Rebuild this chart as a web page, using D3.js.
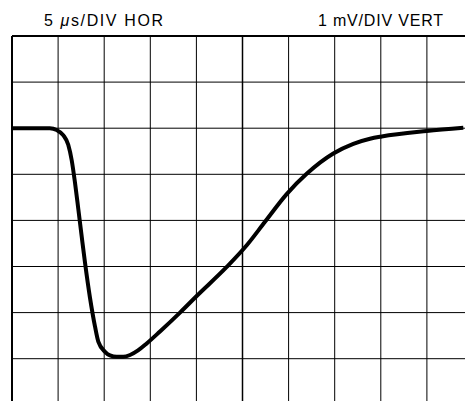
<!DOCTYPE html>
<html>
<head>
<meta charset="utf-8">
<script src="https://cdn.jsdelivr.net/npm/d3@7"></script>
<style>
  html, body { margin: 0; padding: 0; background: #fff; }
  svg { display: block; }
</style>
</head>
<body>
<div id="chart"></div>
<script>
// ---- data ----
const timeUs = [0, 2, 4.1, 4.85, 5.55, 6.1, 6.48, 6.83, 7.19, 7.56, 7.92, 8.46, 9.0, 9.36, 10.09, 10.63, 11.36, 12.07, 12.8, 13.67, 14.61, 16.05, 18.22, 20.03, 23.29, 25.46, 27.44, 29.79, 31.96, 34.85, 37.02, 38.83, 40.1, 44.98, 48.95];
const voltMv = [0, 0, 0, -0.04, -0.15, -0.36, -0.70, -1.18, -1.75, -2.35, -2.92, -3.68, -4.30, -4.63, -4.85, -4.93, -4.96, -4.96, -4.92, -4.82, -4.67, -4.41, -4.00, -3.64, -3.01, -2.54, -2.03, -1.43, -0.99, -0.55, -0.34, -0.23, -0.18, -0.06, 0.01];
const xGridUs = [0, 5, 10, 15, 20, 25, 30, 35, 40, 45, 50];
const yGridMv = [2, 1, 0, -1, -2, -3, -4, -5, -6];
const labelLeft = ["5 ", "\u03BC", "s/DIV HOR"];
const labelRight = "1 mV/DIV VERT";

const W = 465, H = 401;
const svg = d3.select("#chart").append("svg").attr("width", W).attr("height", H);

const x = d3.scaleLinear().domain([0, 50]).range([12, 473]);
const y = d3.scaleLinear().domain([2, -6]).range([36, 404.8]);

const grid = svg.append("g");
grid.selectAll("line.v").data(xGridUs).join("line")
  .attr("class", "v")
  .attr("x1", d => x(d)).attr("x2", d => x(d))
  .attr("y1", y(2)).attr("y2", y(-6))
  .attr("stroke", "#000")
  .attr("stroke-width", d => d === 0 ? 2 : (d === 25 ? 1.5 : 1));
grid.selectAll("line.h").data(yGridMv).join("line")
  .attr("class", "h")
  .attr("x1", x(0)).attr("x2", x(50))
  .attr("y1", d => y(d)).attr("y2", d => y(d))
  .attr("stroke", "#000")
  .attr("stroke-width", d => d === 2 ? 2 : 1);

const pts = timeUs.map((t, i) => [t, voltMv[i]]);
const line = d3.line().x(d => x(d[0])).y(d => y(d[1])).curve(d3.curveMonotoneX);
svg.append("path").datum(pts)
  .attr("d", line)
  .attr("fill", "none")
  .attr("stroke", "#000")
  .attr("stroke-width", 4)
  .attr("stroke-linejoin", "round")
  .attr("stroke-linecap", "butt");

const fontFam = "'Liberation Sans', Arial, sans-serif";
const tl = svg.append("text")
  .attr("x", 44).attr("y", 26)
  .attr("font-family", fontFam).attr("font-size", 16)
  .attr("textLength", 119).attr("lengthAdjust", "spacing")
  .attr("fill", "#000");
tl.append("tspan").text(labelLeft[0]);
tl.append("tspan").attr("font-style", "italic").text(labelLeft[1]);
tl.append("tspan").text(labelLeft[2]);

svg.append("text")
  .attr("x", 318).attr("y", 26)
  .attr("font-family", fontFam).attr("font-size", 16)
  .attr("textLength", 125).attr("lengthAdjust", "spacing")
  .attr("fill", "#000")
  .text(labelRight);
</script>
</body>
</html>
